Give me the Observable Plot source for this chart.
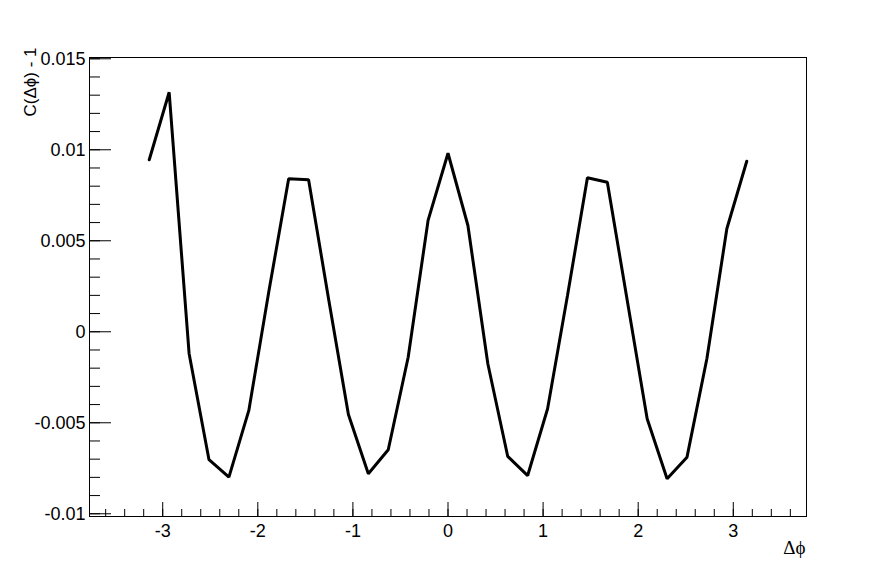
<!DOCTYPE html>
<html>
<head>
<meta charset="utf-8">
<script src="https://cdn.jsdelivr.net/npm/d3@7"></script>
<script src="https://cdn.jsdelivr.net/npm/@observablehq/plot@0.6"></script>
<style>
  html, body { margin: 0; padding: 0; background: #fff; }
  #chart { width: 896px; height: 574px; }
</style>
</head>
<body>
<div id="chart"></div>
<script>
// Δφ bin centres
const dphi = [
  -3.1416, -2.9322, -2.7227, -2.5133, -2.3038, -2.0944, -1.8850, -1.6755,
  -1.4661, -1.2566, -1.0472, -0.8378, -0.6283, -0.4189, -0.2094, 0.0,
  0.2094, 0.4189, 0.6283, 0.8378, 1.0472, 1.2566, 1.4661, 1.6755,
  1.8850, 2.0944, 2.3038, 2.5133, 2.7227, 2.9322, 3.1416
];
// C(Δφ) - 1
const corr = [
  0.00945, 0.01316, -0.00119, -0.00703, -0.00799, -0.00432, 0.00218, 0.00841,
  0.00835, 0.00183, -0.00454, -0.00780, -0.00648, -0.00140, 0.00612, 0.00981,
  0.00584, -0.00176, -0.00685, -0.00790, -0.00423, 0.00199, 0.00846, 0.00822,
  0.00172, -0.00478, -0.00808, -0.00689, -0.00147, 0.00566, 0.00937
];
const xTicksMajor = [-3, -2, -1, 0, 1, 2, 3];
const yTicksMajor = [-0.01, -0.005, 0, 0.005, 0.01, 0.015];
const xTitle = "Δϕ";
const yTitle = "C(Δϕ) - 1";

const xTicksMinor = d3.range(-18, 19).map(k => k / 5);
const yTicksMinor = d3.range(-10, 16).map(k => k / 1000);

const data = dphi.map((x, i) => ({x, y: corr[i]}));

const W = 896, H = 574, mL = 89, mR = 90, mT = 57, mB = 58;
const plotW = W - mL - mR, plotH = H - mT - mB;

const chart = Plot.plot({
  width: W,
  height: H,
  marginLeft: mL,
  marginRight: mR,
  marginTop: mT,
  marginBottom: mB,
  style: {fontFamily: "'Liberation Sans', Arial, Helvetica, sans-serif", color: "black", background: "white"},
  x: {domain: [-3.7699, 3.7699], label: null},
  y: {domain: [-0.01015, 0.01507], label: null},
  marks: [
    Plot.frame({stroke: "black", strokeWidth: 1}),
    // x ticks (pointing up from bottom)
    Plot.tickX(xTicksMinor, {x: d => d, stroke: "black", strokeWidth: 1, insetTop: plotH - 7}),
    Plot.tickX(xTicksMajor, {x: d => d, stroke: "black", strokeWidth: 1, insetTop: plotH - 14}),
    // y ticks (pointing right from left)
    Plot.tickY(yTicksMinor, {y: d => d, stroke: "black", strokeWidth: 1, insetRight: plotW - 11}),
    Plot.tickY(yTicksMajor, {y: d => d, stroke: "black", strokeWidth: 1, insetRight: plotW - 22}),
    Plot.axisX(xTicksMajor, {tickSize: 0, tickPadding: 8, fontSize: 18, tickFormat: d => String(d), label: null}),
    Plot.axisY(yTicksMajor, {tickSize: 0, tickPadding: 4, fontSize: 18, tickFormat: d => String(d), label: null}),
    Plot.line(data, {x: "x", y: "y", stroke: "black", strokeWidth: 3, strokeLinejoin: "miter"}),
    Plot.text([xTitle], {frameAnchor: "bottom-right", textAnchor: "end", dy: 37, dx: -1, fontSize: 19, fill: "black", fontFamily: "'Liberation Serif', 'DejaVu Serif', serif"}),
    Plot.text([yTitle], {frameAnchor: "top-left", rotate: -90, textAnchor: "end", dx: -66, dy: -10, fontSize: 17, fill: "black"})
  ]
});
document.getElementById("chart").appendChild(chart);
</script>
</body>
</html>
